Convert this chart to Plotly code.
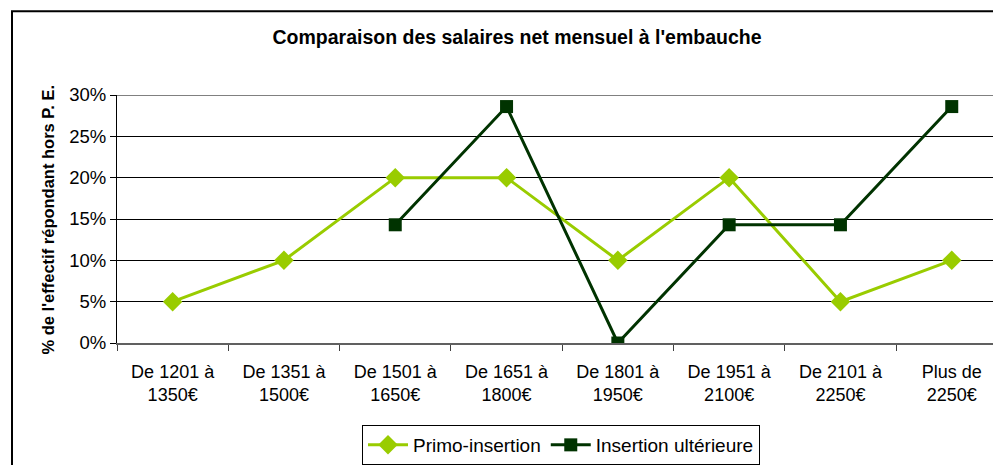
import plotly.graph_objects as go

categories = ["De 1201 à<br>1350€", "De 1351 à<br>1500€", "De 1501 à<br>1650€", "De 1651 à<br>1800€",
              "De 1801 à<br>1950€", "De 1951 à<br>2100€", "De 2101 à<br>2250€", "Plus de<br>2250€"]
primo = [0.05, 0.10, 0.20, 0.20, 0.10, 0.20, 0.05, 0.10]
ulterieure = [None, None, 0.143, 0.286, 0.0, 0.143, 0.143, 0.286]
yticks = [0, 0.05, 0.10, 0.15, 0.20, 0.25, 0.30]
ytick_labels = ["0%", "5%", "10%", "15%", "20%", "25%", "30%"]

OFF = 8  # page body margin
W, H = 1001 - OFF, 465 - OFF
L, R, T = 117 - OFF, 0, 95 - OFF
B = H - (344 - OFF)
pw = W - L - R
ph = H - T - B

fig = go.Figure()
fig.add_trace(go.Scatter(
    x=categories, y=primo, name="Primo-insertion", mode="lines+markers",
    line=dict(color="#99CC00", width=3),
    marker=dict(symbol="diamond", size=15, color="#99CC00"),
))
fig.add_trace(go.Scatter(
    x=categories, y=ulterieure, name="Insertion ultérieure", mode="lines+markers",
    line=dict(color="#003300", width=3),
    marker=dict(symbol="square", size=13, color="#003300"),
))

font = "Liberation Sans, Arial, sans-serif"
fig.update_layout(
    width=W, height=H,
    margin=dict(l=L, r=R, t=T, b=B),
    paper_bgcolor="white", plot_bgcolor="white",
    font=dict(family=font, size=17, color="black"),
    title=dict(text="<b>Comparaison des salaires net mensuel à l'embauche</b>",
               x=(517 - OFF) / W, xanchor="center", y=1 - (37 - OFF) / H, yanchor="middle",
               font=dict(size=19.5, family=font)),
    showlegend=True,
    legend=dict(orientation="h", x=(561 - 117) / pw, xanchor="center",
                y=-(446 - 344) / ph, yanchor="middle",
                bordercolor="black", borderwidth=1, bgcolor="white",
                font=dict(size=19), itemwidth=40, tracegroupgap=0),
    xaxis=dict(type="category", range=[-0.5, -0.5 + pw / 111.3],
               tickson="boundaries", ticks="outside", ticklen=6, tickcolor="#404040",
               showgrid=False, showline=True, linecolor="#606060", linewidth=2,
               tickfont=dict(size=18), ticklabelstandoff=11, zeroline=False),
    yaxis=dict(range=[0, 0.30], tickvals=yticks, ticktext=ytick_labels,
               ticks="outside", ticklen=6, tickcolor="black",
               showgrid=True, gridcolor="black", gridwidth=1,
               showline=True, linecolor="black", linewidth=1,
               tickfont=dict(size=18.5), zeroline=False),
)

# y axis title
fig.add_annotation(text="<b>% de l'effectif répondant hors P. E.</b>",
                   xref="paper", yref="paper", x=(48 - 117) / pw, y=(344 - 220) / ph,
                   xanchor="center", yanchor="middle", textangle=-90, showarrow=False,
                   font=dict(size=16.5, family=font))

# top gridline in gray (plot area border)
fig.add_shape(type="line", xref="paper", yref="y", x0=0, x1=1, y0=0.30, y1=0.30,
              line=dict(color="#808080", width=2))

# outer chart frame
fig.add_shape(type="rect", xref="paper", yref="paper",
              x0=(12 - 117) / pw, x1=1.2, y0=-2, y1=(344 - 11) / ph,
              line=dict(color="black", width=2), layer="below")

fig.write_html("out.html")
